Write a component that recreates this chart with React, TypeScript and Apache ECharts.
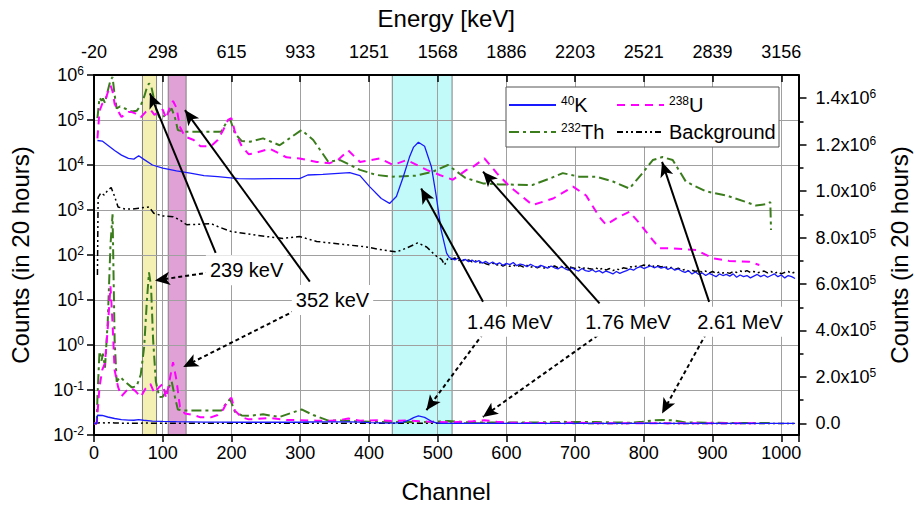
import React, { useEffect, useRef } from 'react';
import * as echarts from 'echarts';

const FONT = 'Liberation Sans, Arial, sans-serif';

// Top axis (energy) tick labels, one per 100 channels
const ENERGY_LABELS = ['-20', '298', '615', '933', '1251', '1568', '1886', '2203', '2521', '2839', '3156'];
const RIGHT_TICK_VALUES = [0, 200000, 400000, 600000, 800000, 1000000, 1200000, 1400000];
const RIGHT_MINOR_TICKS = [100000, 300000, 500000, 700000, 900000, 1100000, 1300000];

// 40K
const K_CH = [5, 12, 20, 30, 40, 50, 58, 65, 72, 85, 100, 120, 140, 160, 180, 210, 230, 260, 299, 311, 333, 372, 387, 401, 418, 430, 440, 450, 459, 465, 472, 481, 491, 498, 505, 513, 517];
const K_COUNTS = [35000, 34000, 27500, 21000, 16600, 14000, 13500, 16000, 13500, 10000, 8500, 7400, 6600, 5800, 5500, 5000, 4900, 5000, 5000, 6000, 6200, 6800, 5800, 3300, 1800, 1400, 2000, 5500, 15000, 25000, 32000, 26000, 9000, 2000, 360, 110, 88];
const NOISE_START = 520;
const NOISE_STEP = 5;
const K_NOISE = [
  84, 78, 86, 74, 80, 71, 77, 69, 75, 66, 72,
  64, 70, 62, 67, 59, 65, 61, 68, 58, 63,
  60, 55, 62, 57, 53, 59, 55, 51, 57, 52,
  49, 55, 50, 46, 52, 47, 44, 50, 45, 43,
  47, 42, 45, 40, 44, 41, 38, 43, 39, 42,
  45, 49, 46, 52, 55, 50, 54, 57, 52, 56,
  51, 54, 48, 52, 46, 49, 44, 41, 45, 38,
  42, 37, 40, 35, 39, 36, 33, 38, 35, 37,
  34, 38, 32, 36, 33, 35, 31, 34, 37, 33,
  36, 32, 35, 38, 33, 36, 31, 35, 33, 30,
];

// 238U
const U_CH = [5, 8, 12, 16, 20, 24, 27, 30, 35, 40, 50, 55, 60, 68, 75, 82, 88, 95, 100, 105, 110, 115, 120, 125, 132, 145, 155, 170, 180, 188, 195, 200, 205, 215, 225, 232, 256, 280, 299, 324, 343, 355, 370, 387, 416, 435, 455, 484, 503, 522, 542, 551, 568, 586, 605, 638, 668, 697, 716, 735, 745, 764, 779, 794, 813, 823, 842, 876, 900, 924, 953, 968];
const U_COUNTS = [39000, 157000, 230000, 260000, 410000, 590000, 430000, 230000, 157000, 117000, 150000, 150000, 140000, 114000, 150000, 170000, 130000, 157000, 170000, 108000, 186000, 264000, 186000, 71000, 43000, 36000, 26000, 26000, 36000, 60000, 100000, 110000, 55000, 26000, 17400, 18000, 23000, 14800, 14000, 11700, 11000, 13000, 21000, 11700, 14000, 10000, 12900, 7800, 6000, 4700, 7800, 9000, 14000, 6600, 3300, 1290, 1800, 3300, 2100, 710, 470, 710, 910, 500, 214, 141, 141, 129, 85, 74, 71, 60];

// 232Th
const TH_CH = [5, 8, 11, 13, 16, 20, 24, 27, 30, 33, 38, 45, 55, 62, 68, 73, 77, 80, 83, 86, 90, 95, 100, 108, 113, 118, 122, 130, 150, 170, 185, 192, 198, 205, 215, 227, 246, 270, 302, 319, 341, 358, 387, 411, 435, 469, 493, 515, 540, 566, 590, 638, 663, 682, 706, 731, 755, 779, 798, 813, 827, 842, 861, 890, 920, 949, 963, 978, 984, 985];
const TH_COUNTS = [110000, 310000, 270000, 300000, 240000, 440000, 770000, 900000, 360000, 180000, 200000, 180000, 155000, 160000, 210000, 330000, 530000, 650000, 590000, 360000, 180000, 114000, 115000, 150000, 180000, 110000, 60000, 55000, 55000, 55000, 55000, 85000, 105000, 50000, 34000, 33000, 39000, 27500, 60000, 36000, 11700, 12900, 7800, 6000, 5500, 5800, 7100, 10000, 5200, 3900, 3700, 3600, 5000, 6600, 5500, 5500, 4300, 3000, 6600, 12900, 15000, 12900, 4300, 2600, 2100, 1500, 1260, 1350, 1500, 360];

// Background
const BG_CH = [5, 6, 10, 15, 20, 25, 30, 35, 45, 55, 65, 80, 87, 100, 115, 125, 135, 150, 170, 180, 200, 220, 251, 275, 299, 324, 348, 372, 396, 420, 440, 454, 471, 484, 496, 506, 510, 515];
const BG_COUNTS = [36, 1900, 2400, 2150, 2750, 3150, 2000, 1170, 1050, 1050, 1100, 1170, 850, 740, 710, 600, 470, 480, 500, 430, 330, 300, 257, 234, 257, 200, 182, 166, 151, 129, 117, 141, 186, 151, 100, 79, 60, 85];
const BG_NOISE = [
  80, 86, 75, 82, 72, 78, 70, 74, 66, 71, 64,
  61, 66, 59, 63, 57, 62, 56, 60, 55, 58,
  54, 59, 53, 57, 52, 56, 51, 55, 53, 57,
  52, 56, 51, 55, 53, 50, 54, 49, 53, 50,
  48, 52, 47, 51, 46, 50, 45, 49, 47, 52,
  50, 55, 53, 58, 56, 60, 57, 61, 55, 58,
  54, 57, 51, 53, 48, 51, 46, 48, 44, 46,
  43, 46, 41, 44, 40, 43, 39, 42, 40, 41,
  39, 43, 41, 44, 42, 45, 41, 43, 40, 42,
  44, 40, 43, 39, 42, 38, 41, 43, 39, 42,
];

// Shaded channel windows
const WINDOWS = [
  { from: 70.5, to: 91, color: '#f4f0b4' },
  { from: 108, to: 134, color: '#e0a2d6' },
  { from: 434, to: 521, color: '#c2fafa' },
];

// Annotations: label position (channel, counts on log axis)
const ANNOTATION_LABELS = [
  { name: '239 keV', ch: 222, counts: 46 },
  { name: '352 keV', ch: 347, counts: 10 },
  { name: '1.46 MeV', ch: 605, counts: 3.3 },
  { name: '1.76 MeV', ch: 777, counts: 3.3 },
  { name: '2.61 MeV', ch: 940, counts: 3.3 },
];
// solid arrows on log axis: [fromCh, fromCounts, toCh, toCounts]
const LOG_ARROWS = [
  [177, 112, 81.4, 390000],
  [314, 25.7, 132.3, 166000],
  [566, 9.1, 476, 3000],
  [735.5, 8.45, 566, 7100],
  [895, 9.1, 826.5, 11700],
];
// dashed arrows on linear axis: [fromCh, fromCounts, toCh, toCounts]
const LIN_ARROWS = [
  [168.6, 650000, 88.7, 615000],
  [302, 500000, 129.8, 243000],
  [566, 386000, 483.6, 57000],
  [733, 379000, 565.8, 28000],
  [890.5, 386000, 826.5, 43000],
];

const pairs = (ch: number[], counts: number[]) => ch.map((c, i) => [c, counts[i]]);
const noisePairs = (counts: number[]) => counts.map((v, i) => [NOISE_START + i * NOISE_STEP, v]);

const SERIES_DEFS = [
  { name: 'Background', data: [...pairs(BG_CH, BG_COUNTS), ...noisePairs(BG_NOISE)], color: '#000000', width: 1.5, type: [6, 3, 2, 3, 2, 3] as any },
  { name: '232Th', data: pairs(TH_CH, TH_COUNTS), color: '#3b7d1d', width: 2, type: [10, 4, 3, 4] as any },
  { name: '238U', data: pairs(U_CH, U_COUNTS), color: '#ff00ff', width: 2, type: [8, 6] as any },
  { name: '40K', data: [...pairs(K_CH, K_COUNTS), ...noisePairs(K_NOISE)], color: '#1a1aff', width: 1.3, type: 'solid' as any },
];

const LEGEND_TEXT: Record<string, string> = {
  '40K': '{s|40}K',
  '238U': '{s|238}U',
  '232Th': '{s|232}Th',
  Background: 'Background',
};

const LEGEND_POS = [
  { name: '40K', left: 508, top: 95 },
  { name: '238U', left: 616, top: 95 },
  { name: '232Th', left: 508, top: 122 },
  { name: 'Background', left: 616, top: 122 },
];

function rightLabel(v: number): string {
  if (v === 0) return '0.0';
  const e = Math.floor(Math.log10(v) + 1e-9);
  const m = v / Math.pow(10, e);
  return `${m.toFixed(1)}x10{s|${e}}`;
}

export default function App() {
  const ref = useRef<HTMLDivElement>(null);
  useEffect(() => {
    if (!ref.current) return;
    const chart = echarts.init(ref.current, undefined, { renderer: 'svg' });
    const supRich = { s: { fontSize: 12, lineHeight: 12, verticalAlign: 'top', fontFamily: FONT, color: '#000' } };
    const series: any[] = [];
    SERIES_DEFS.forEach((d) => {
      const ls = { color: d.color, width: d.width, type: d.type };
      series.push({
        type: 'line', name: d.name, xAxisIndex: 0, yAxisIndex: 0, data: d.data,
        showSymbol: false, symbol: 'none', lineStyle: ls, itemStyle: { color: d.color }, z: 2, silent: true,
      });
      series.push({
        type: 'line', name: d.name, xAxisIndex: 0, yAxisIndex: 1, data: [[0, 0], [4, 0], ...d.data],
        showSymbol: false, symbol: 'none', lineStyle: ls, itemStyle: { color: d.color }, z: 2, silent: true,
      });
    });
    series.push({
      type: 'line', name: 'windows', xAxisIndex: 0, yAxisIndex: 1, data: [], silent: true,
      markArea: {
        silent: true,
        data: WINDOWS.map((w) => [
          { xAxis: w.from, itemStyle: { color: w.color, borderColor: '#808080', borderWidth: 1 } },
          { xAxis: w.to },
        ]),
      },
    });
    series.push({
      type: 'line', name: 'arrowsLog', xAxisIndex: 0, yAxisIndex: 0, data: [], silent: true,
      markLine: {
        silent: true, symbol: ['none', 'arrow'], symbolSize: [10, 15], label: { show: false },
        lineStyle: { color: '#000', width: 2, type: 'solid' },
        data: LOG_ARROWS.map((a) => [{ coord: [a[0], a[1]] }, { coord: [a[2], a[3]] }]),
      },
    });
    series.push({
      type: 'line', name: 'arrowsLin', xAxisIndex: 0, yAxisIndex: 1, data: [], silent: true,
      markLine: {
        silent: true, symbol: ['none', 'arrow'], symbolSize: [10, 15], label: { show: false },
        lineStyle: { color: '#000', width: 2, type: [4, 3] },
        data: LIN_ARROWS.map((a) => [{ coord: [a[0], a[1]] }, { coord: [a[2], a[3]] }]),
      },
    });
    series.push({
      type: 'scatter', name: 'labels', xAxisIndex: 0, yAxisIndex: 0, z: 6, silent: true,
      symbolSize: 1, itemStyle: { color: 'rgba(0,0,0,0)', opacity: 1 },
      data: ANNOTATION_LABELS.map((l) => ({ name: l.name, value: [l.ch, l.counts] })),
      label: {
        show: true, position: 'inside', formatter: '{b}', fontSize: 20, color: '#000', opacity: 1,
        textBorderWidth: 0, backgroundColor: '#fff', padding: [5, 4], fontFamily: FONT,
      },
    });

    const option: any = {
      animation: false,
      textStyle: { fontFamily: FONT },
      grid: { left: 94, right: 116.5, top: 75, bottom: 74, containLabel: false, outerBoundsMode: 'none' },
      legend: LEGEND_POS.map((p) => ({
        data: [p.name], left: p.left, top: p.top, orient: 'horizontal', padding: 0,
        itemWidth: 47, itemHeight: 14, itemGap: 0, selectedMode: false,
        itemStyle: { opacity: 0, borderWidth: 0 },
        formatter: (n: string) => LEGEND_TEXT[n] ?? n,
        textStyle: { fontSize: 20, lineHeight: 20, color: '#000', fontFamily: FONT, rich: { s: { fontSize: 12, lineHeight: 12, verticalAlign: 'top', fontFamily: FONT, color: '#000' } } },
      })),
      graphic: [
        { type: 'rect', z: 3, shape: { x: 506, y: 87, width: 273, height: 60 }, style: { fill: '#fff', stroke: '#555', lineWidth: 1 } },
      ],
      xAxis: [
        {
          type: 'value', min: 0, max: 1025, interval: 100, position: 'bottom', z: 1.5,
          axisLine: { show: true, onZero: false, lineStyle: { color: '#000', width: 2 } },
          axisTick: { show: true, inside: false, length: 7, lineStyle: { color: '#000', width: 1.5 } },
          splitLine: { show: true, lineStyle: { color: '#a0a0a0', width: 1 } },
          axisLabel: { fontSize: 18, color: '#000', margin: 9, fontFamily: FONT, formatter: (v: number) => (v % 100 === 0 ? String(v) : '') },
          name: 'Channel', nameLocation: 'middle', nameGap: 44,
          nameTextStyle: { fontSize: 24, color: '#000', fontFamily: FONT },
        },
        {
          type: 'value', min: 0, max: 1025, interval: 100, position: 'top', z: 1.5,
          axisLine: { show: true, onZero: false, lineStyle: { color: '#000', width: 2 } },
          axisTick: { show: true, inside: true, length: 7, lineStyle: { color: '#000', width: 1.5 } },
          splitLine: { show: false },
          axisLabel: { fontSize: 18, color: '#000', margin: 14, fontFamily: FONT, formatter: (v: number) => (v % 100 === 0 ? (ENERGY_LABELS[v / 100] ?? '') : '') },
          name: 'Energy [keV]', nameLocation: 'middle', nameGap: 45,
          nameTextStyle: { fontSize: 24, color: '#000', fontFamily: FONT },
        },
      ],
      yAxis: [
        {
          type: 'log', logBase: 10, min: 0.01, max: 1000000, position: 'left', z: 1.5,
          axisLine: { show: true, onZero: false, lineStyle: { color: '#000', width: 2 } },
          axisTick: { show: true, inside: false, length: 7, lineStyle: { color: '#000', width: 1.5 } },
          minorTick: { show: false },
          splitLine: { show: true, lineStyle: { color: '#a0a0a0', width: 1 } },
          axisLabel: {
            fontSize: 18, lineHeight: 20, color: '#000', margin: 10, fontFamily: FONT,
            formatter: (v: number) => `10{s|${Math.round(Math.log10(v))}}`,
            rich: supRich,
          },
          name: 'Counts (in 20 hours)', nameLocation: 'middle', nameGap: 62, nameRotate: 90,
          nameTextStyle: { fontSize: 24, color: '#000', fontFamily: FONT },
        },
        {
          type: 'value', min: -50000, max: 1500000, position: 'right', z: 1.5,
          axisLine: { show: true, onZero: false, lineStyle: { color: '#000', width: 2 } },
          axisTick: { show: true, inside: false, length: 8, customValues: RIGHT_TICK_VALUES, lineStyle: { color: '#000', width: 1.5 } },
          splitLine: { show: false },
          axisLabel: {
            fontSize: 18, lineHeight: 20, color: '#000', margin: 17, fontFamily: FONT,
            customValues: RIGHT_TICK_VALUES, formatter: (v: number) => rightLabel(v), rich: supRich,
          },
          name: 'Counts (in 20 hours)', nameLocation: 'middle', nameGap: 86, nameRotate: 90,
          nameTextStyle: { fontSize: 24, color: '#000', fontFamily: FONT },
        },
        {
          type: 'value', min: -50000, max: 1500000, position: 'right', z: 1.5,
          axisLine: { show: false, onZero: false },
          axisTick: { show: true, inside: false, length: 5, customValues: RIGHT_MINOR_TICKS, lineStyle: { color: '#000', width: 1.5 } },
          axisLabel: { show: false },
          splitLine: { show: false },
        },
      ],
      series,
    };
    chart.setOption(option);
    return () => chart.dispose();
  }, []);
  return <div ref={ref} style={{ position: 'absolute', left: 0, top: 0, width: 915, height: 509, background: '#fff' }} />;
}
